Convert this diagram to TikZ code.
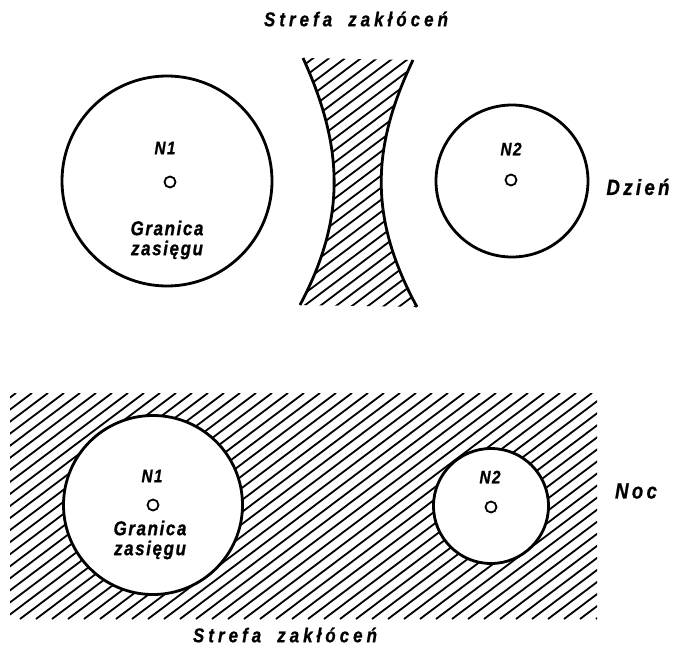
\documentclass[tikz,border=0pt]{standalone}
\usepackage{fontspec}
\setmainfont{Liberation Sans}
\newfontfamily\hand[LetterSpace=8,FakeStretch=0.85,FakeBold=0.8]{Liberation Sans}
\begin{document}
\begin{tikzpicture}[x=1pt,y=-1pt,
  rim/.style={circle, draw, line width=2.8pt, inner sep=0pt, fill=white},
  site/.style={circle, draw, line width=1.8pt, inner sep=0pt, minimum size=11pt},
  lbl/.style={font=\hand\bfseries\itshape\fontsize{20}{20}\selectfont, inner sep=0pt, align=center},
  tag/.style={lbl, font=\hand\bfseries\itshape\fontsize{18}{20}\selectfont},
  biglbl/.style={lbl, font=\hand\bfseries\itshape\fontsize{22}{24}\selectfont\addfontfeature{LetterSpace=15}},
  zonelbl/.style={lbl, font=\hand\bfseries\itshape\fontsize{20}{22}\selectfont\addfontfeature{LetterSpace=20}},
  hatch/.style={line width=1.8pt},
  edge/.style={line width=2.8pt}]
\useasboundingbox (0,0) rectangle (675,650);

% ---------- day ----------
\node[zonelbl] (zoneday) at (356,19) {Strefa\hspace{16pt}zakłóceń};

% hatched interference band between the stations
\begin{scope}
  \clip (303,58) .. controls (345,150) and (345,220) .. (300,305)
        -- (417,307) .. controls (370,220) and (370,150) .. (413,60) -- cycle;
  \foreach \i in {-40,-24,...,430} \draw[hatch] (\i,312) -- ++(340,-256);
\end{scope}
\draw[edge] (303,58) .. controls (345,150) and (345,220) .. (300,305);
\draw[edge] (413,60) .. controls (370,150) and (370,220) .. (417,307);

\node[rim, minimum size=210pt] (rangeAday) at (167,181) {};
\node[rim, minimum size=152pt] (rangeBday) at (512,181) {};
\node[site] (siteAday) at (170,182) {};
\node[site] (siteBday) at (511,180) {};
\node[tag] (nameAday) at (165,148) {N1};
\node[tag] (nameBday) at (511,149) {N2};
\node[lbl] (limday) at (167,240) {Granica\\zasięgu};
\node[biglbl] (day) at (638,187) {Dzień};

% ---------- night ----------
\begin{scope}
  \clip (10,393) rectangle (597,619);
  \foreach \i in {-300,-284,...,600} \draw[hatch] (\i,619) -- ++(300,-226);
\end{scope}

\node[rim, minimum size=179pt] (rangeAnight) at (153,505) {};
\node[rim, minimum size=115pt] (rangeBnight) at (491,506) {};
\node[site] (siteAnight) at (153,505) {};
\node[site] (siteBnight) at (491,507) {};
\node[tag] (nameAnight) at (152,476) {N1};
\node[tag] (nameBnight) at (490,477) {N2};
\node[lbl] (limnight) at (150,540) {Granica\\zasięgu};
\node[biglbl] (night) at (636,491) {Noc};
\node[zonelbl] (zonenight) at (285,635) {Strefa\hspace{16pt}zakłóceń};
\end{tikzpicture}
\end{document}
